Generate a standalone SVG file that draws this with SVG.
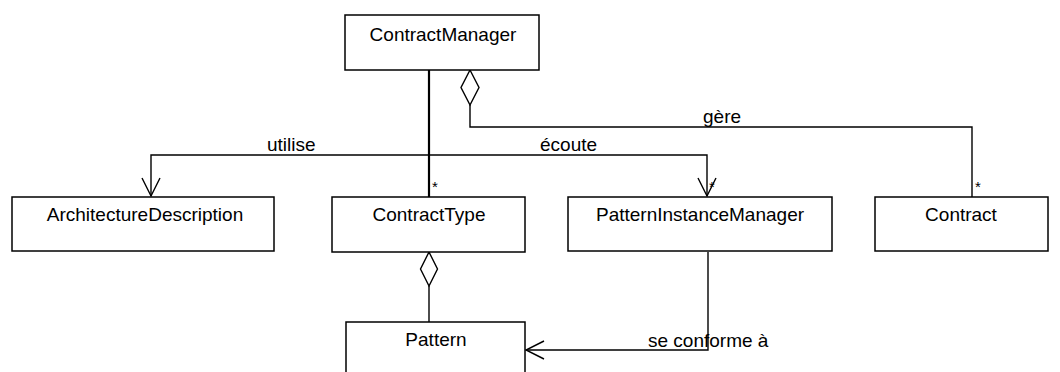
<svg xmlns="http://www.w3.org/2000/svg" width="1060" height="372" viewBox="0 0 1060 372">
<style>
.box{fill:#fff;stroke:#000;stroke-width:1.5}
.t{font-family:"Liberation Sans",Arial,sans-serif;font-size:19px;fill:#000;text-anchor:middle}
.l{font-family:"Liberation Sans",Arial,sans-serif;font-size:19px;fill:#000}
.m{font-family:"Liberation Sans",Arial,sans-serif;font-size:15px;fill:#000}
.c{fill:none;stroke:#000;stroke-width:1.4}
.thick{stroke-width:2.2}
.open{fill:none;stroke:#000;stroke-width:1.4}
.dia{fill:#fff;stroke:#000;stroke-width:1.4}
</style>
<rect width="1060" height="372" fill="#fff"/>
<g id="connectors">
  <path class="c thick" d="M429,70 V197"/>
  <path class="c" d="M151,196 V155 H707 V196"/>
  <path class="open" d="M142,178 L151,196 L160,178"/>
  <path class="open" d="M698,178 L707,196 L716,178"/>
  <path class="c" d="M470,105 V127 H972 V197"/>
  <path class="dia" d="M470,70 L479,87.5 L470,105 L461,87.5 Z"/>
  <path class="c" d="M429,286 V322"/>
  <path class="dia" d="M429,252 L437.5,269 L429,286 L420.5,269 Z"/>
  <path class="c" d="M708,252 V350 H526"/>
  <path class="open" d="M544,341 L526,350 L544,359"/>
  <text class="l" x="267" y="151">utilise</text>
  <text class="l" x="540" y="151">écoute</text>
  <text class="l" x="703" y="123">gère</text>
  <text class="l" x="648" y="347">se conforme à</text>
  <text class="m" x="432" y="192">*</text>
  <text class="m" x="709" y="192">*</text>
  <text class="m" x="975" y="192">*</text>
</g>
<g id="ContractManager"><rect class="box" x="345" y="15" width="194" height="55"/><text class="t" x="443" y="41">ContractManager</text></g>
<g id="ArchitectureDescription"><rect class="box" x="12" y="197" width="262" height="54"/><text class="t" x="145" y="221">ArchitectureDescription</text></g>
<g id="ContractType"><rect class="box" x="332" y="197" width="193" height="55"/><text class="t" x="429" y="221">ContractType</text></g>
<g id="PatternInstanceManager"><rect class="box" x="568" y="197" width="264" height="54"/><text class="t" x="700" y="221">PatternInstanceManager</text></g>
<g id="Contract"><rect class="box" x="875" y="197" width="173" height="54"/><text class="t" x="961" y="221">Contract</text></g>
<g id="Pattern"><rect class="box" x="346" y="322" width="179" height="60"/><text class="t" x="436" y="346">Pattern</text></g>
</svg>
